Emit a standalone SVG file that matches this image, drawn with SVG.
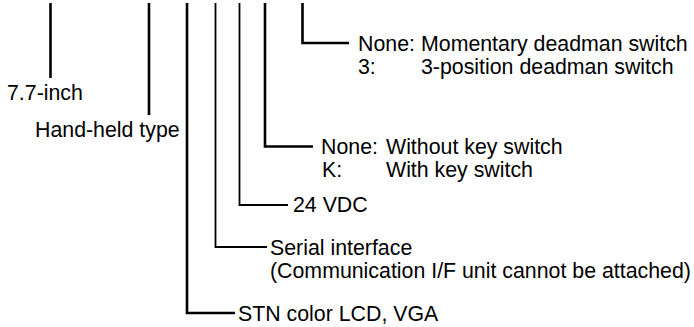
<svg xmlns="http://www.w3.org/2000/svg" width="694" height="327" viewBox="0 0 694 327">
<style>
text{font-family:"Liberation Sans",Arial,sans-serif;font-size:21.33px;fill:#000}
.c{fill:none;stroke:#000;stroke-width:2.6;stroke-linecap:butt;stroke-linejoin:miter}
.t{stroke-width:1.8}
</style>
<rect width="694" height="327" fill="#fff"/>
<g id="connectors">
<path class="c" d="M50.5,3V78"/>
<path class="c" d="M149,3V115"/>
<path class="c" d="M187,3V313H235"/>
<path class="c t" d="M215.5,3V247H267"/>
<path class="c t" d="M239.5,3V205H288"/>
<path class="c" d="M265,3V146.5H313"/>
<path class="c" d="M302.5,3V43H349"/>
</g>
<g id="size"><text x="7" y="100">7.7-inch</text></g>
<g id="type"><text x="35" y="137">Hand-held type</text></g>
<g id="display"><text x="238" y="321">STN color LCD, VGA</text></g>
<g id="interface"><text x="270" y="255">Serial interface</text><text x="270" y="278">(Communication I/F unit cannot be attached)</text></g>
<g id="power"><text x="293" y="212">24 VDC</text></g>
<g id="keyswitch"><text x="321" y="154">None:</text><text x="386" y="154">Without key switch</text><text x="322" y="177">K:</text><text x="386" y="177">With key switch</text></g>
<g id="deadman"><text x="358" y="51">None:</text><text x="421" y="51">Momentary deadman switch</text><text x="358" y="74">3:</text><text x="421" y="74">3-position deadman switch</text></g>
</svg>
